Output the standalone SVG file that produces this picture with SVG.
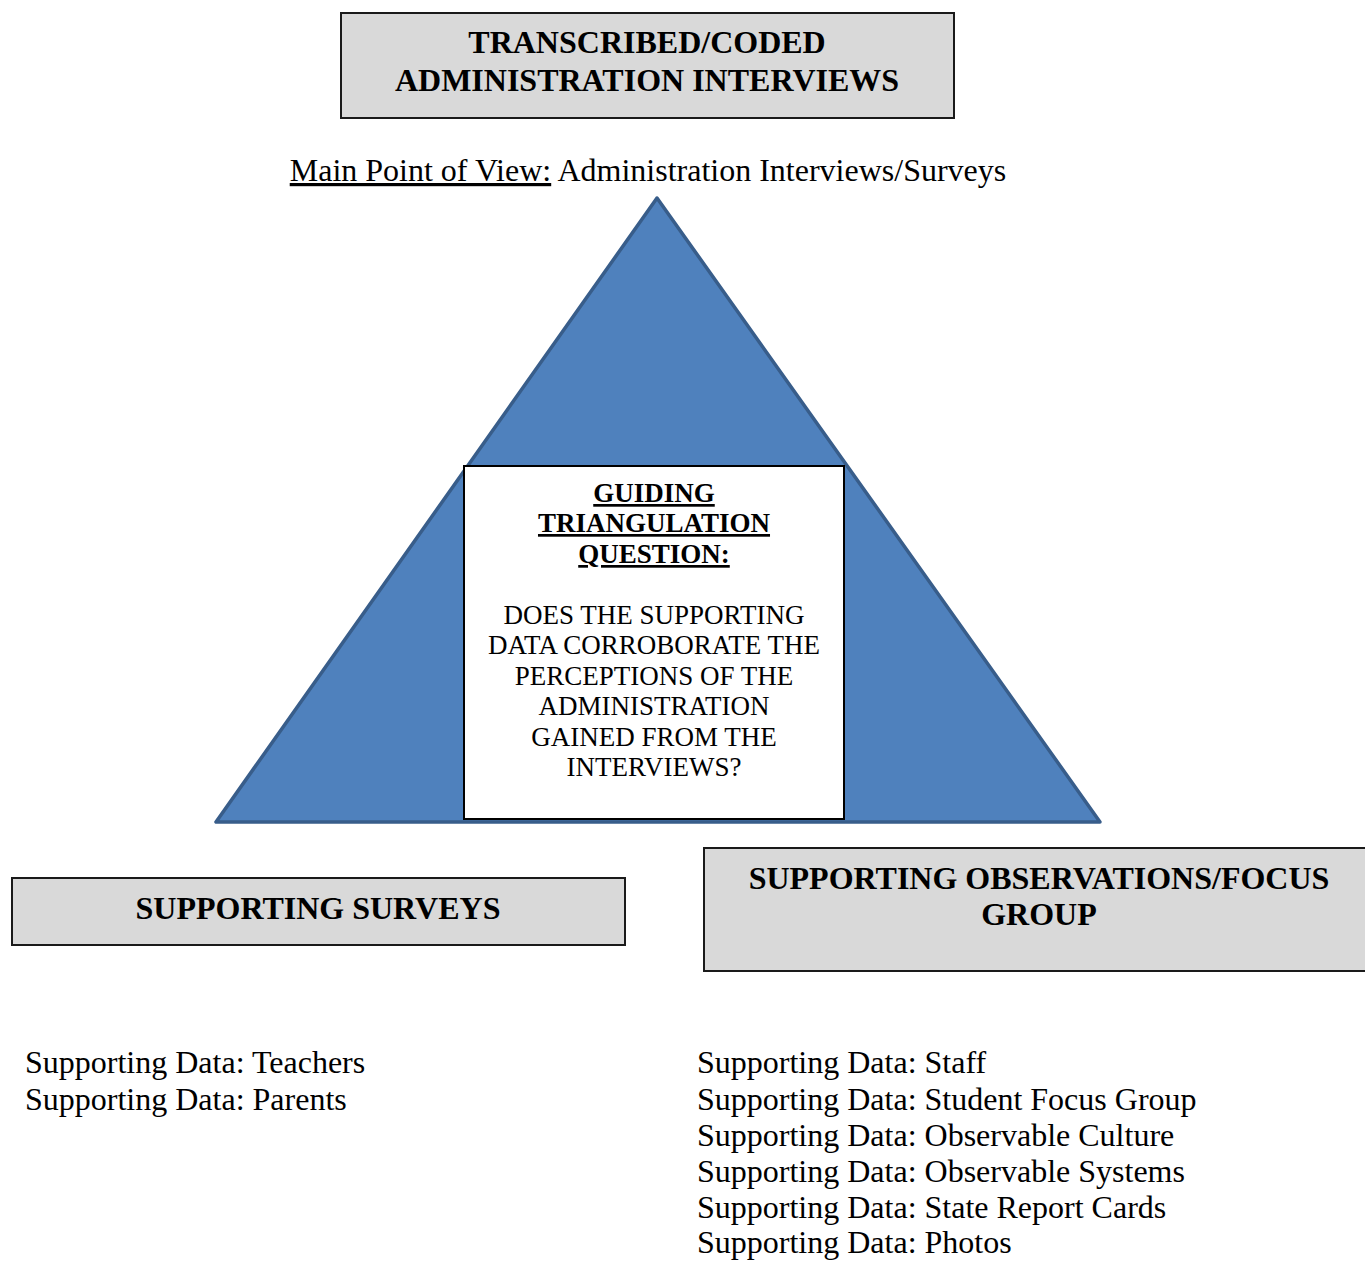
<svg xmlns="http://www.w3.org/2000/svg" width="1365" height="1261" viewBox="0 0 1365 1261">
  <style>
    .box { fill: #d9d9d9; stroke: #1a1a1a; stroke-width: 2; }
    .head { font-family: "Liberation Serif", "Times New Roman", serif; font-weight: bold; font-size: 32px; fill: #000; text-anchor: middle; }
    .q { font-family: "Liberation Serif", "Times New Roman", serif; font-size: 27px; fill: #000; text-anchor: middle; }
    .qh { font-weight: bold; text-decoration: underline; }
    .body { font-family: "Liberation Serif", "Times New Roman", serif; font-size: 32px; fill: #000; }
  </style>
  <rect width="1365" height="1261" fill="#fff"/>

  <g id="top-node">
    <rect class="box" x="341" y="13" width="613" height="105"/>
    <text class="head" x="647" y="53">TRANSCRIBED/CODED</text>
    <text class="head" x="647" y="91">ADMINISTRATION INTERVIEWS</text>
  </g>

  <text class="body" x="648" y="181" text-anchor="middle"><tspan text-decoration="underline">Main Point of View:</tspan> Administration Interviews/Surveys</text>

  <g id="triangle">
    <polygon points="657,198 216,822 1100,822" fill="#4f81bd" stroke="#385d8a" stroke-width="3.5" stroke-linejoin="round"/>
  </g>

  <g id="question-node">
    <rect x="464" y="466" width="380" height="353" fill="#fff" stroke="#000" stroke-width="2"/>
    <text class="q qh" x="654" y="502">GUIDING</text>
    <text class="q qh" x="654" y="532">TRIANGULATION</text>
    <text class="q qh" x="654" y="563">QUESTION:</text>
    <text class="q" x="654" y="624">DOES THE SUPPORTING</text>
    <text class="q" x="654" y="654">DATA CORROBORATE THE</text>
    <text class="q" x="654" y="685">PERCEPTIONS OF THE</text>
    <text class="q" x="654" y="715">ADMINISTRATION</text>
    <text class="q" x="654" y="746">GAINED FROM THE</text>
    <text class="q" x="654" y="776">INTERVIEWS?</text>
  </g>

  <g id="surveys-node">
    <rect class="box" x="12" y="878" width="613" height="67"/>
    <text class="head" x="318" y="919">SUPPORTING SURVEYS</text>
  </g>

  <g id="observations-node">
    <rect class="box" x="704" y="848" width="665" height="123"/>
    <text class="head" x="1039" y="889">SUPPORTING OBSERVATIONS/FOCUS</text>
    <text class="head" x="1039" y="925">GROUP</text>
  </g>

  <g id="survey-data">
    <text class="body" x="25" y="1073">Supporting Data: Teachers</text>
    <text class="body" x="25" y="1110">Supporting Data: Parents</text>
  </g>

  <g id="observation-data">
    <text class="body" x="697" y="1073">Supporting Data: Staff</text>
    <text class="body" x="697" y="1110">Supporting Data: Student Focus Group</text>
    <text class="body" x="697" y="1146">Supporting Data: Observable Culture</text>
    <text class="body" x="697" y="1182">Supporting Data: Observable Systems</text>
    <text class="body" x="697" y="1218">Supporting Data: State Report Cards</text>
    <text class="body" x="697" y="1253">Supporting Data: Photos</text>
  </g>

  <g id="connectors"></g>
</svg>
